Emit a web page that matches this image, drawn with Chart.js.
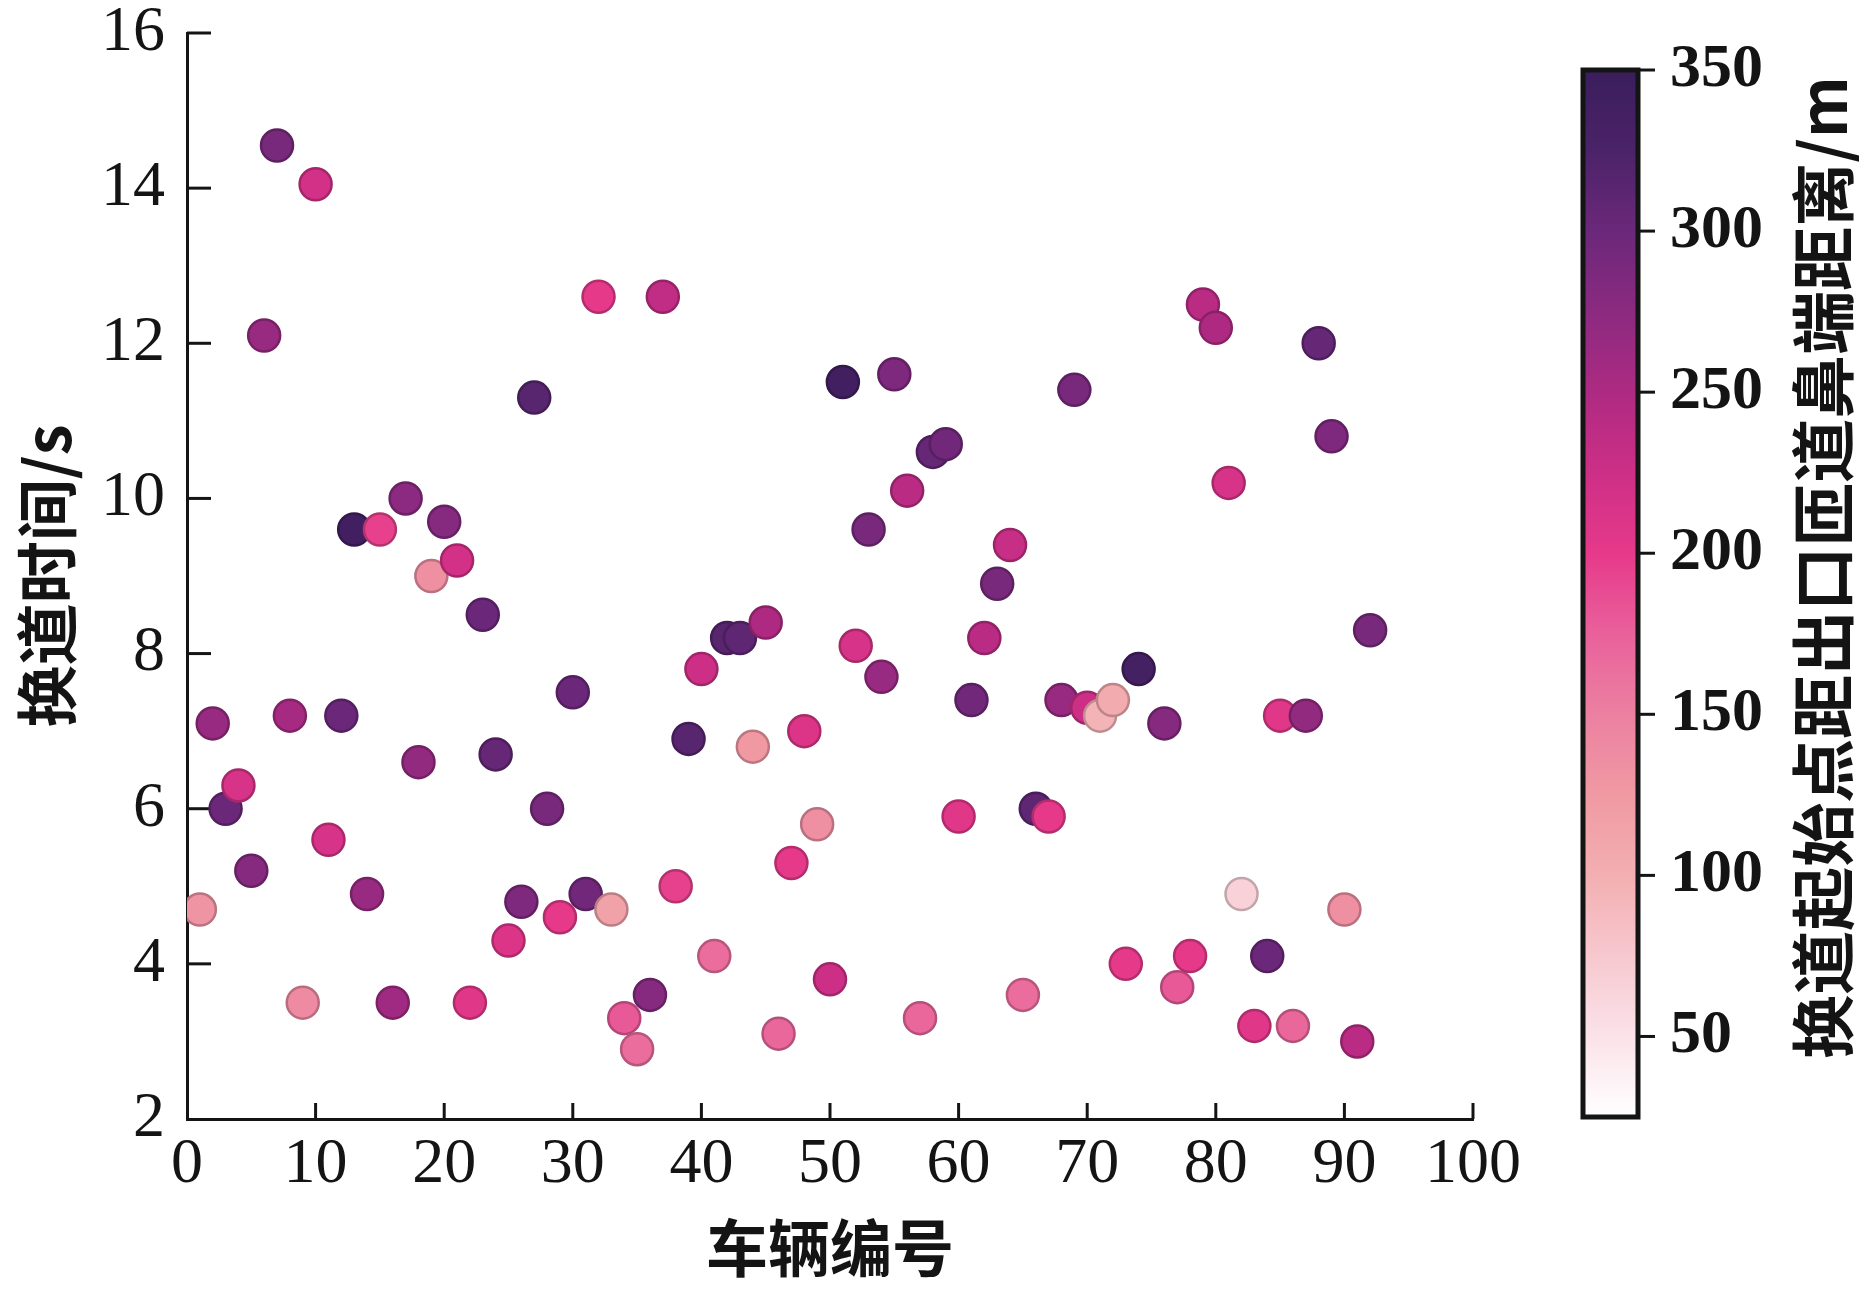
<!DOCTYPE html>
<html>
<head>
<meta charset="utf-8">
<script src="https://cdn.jsdelivr.net/npm/chart.js@4.4.0/dist/chart.umd.min.js"></script>
<style>
  html, body { margin: 0; padding: 0; background: #fff; }
  #wrap { position: relative; width: 1870px; height: 1289px; }
  #main { position: absolute; left: 0; top: 0; }
  #bar { position: absolute; left: 1480px; top: 0; }
</style>
</head>
<body>
<div id="wrap">
  <canvas id="main" width="1870" height="1289"></canvas>
  <canvas id="bar" width="390" height="1289"></canvas>
</div>
<script>
// 车辆编号
const vehicleIds = [
  1, 2, 3, 4, 5, 6, 7, 8, 9, 10, 11, 12, 13, 14, 15, 16, 17, 18, 19, 20,
  21, 22, 23, 24, 25, 26, 27, 28, 29, 30, 31, 32, 33, 34, 35, 36, 37, 38, 39, 40,
  41, 42, 43, 44, 45, 46, 47, 48, 49, 50, 51, 52, 53, 54, 55, 56, 57, 58, 59, 60,
  61, 62, 63, 64, 65, 66, 67, 68, 69, 70, 71, 72, 73, 74, 76, 77, 78, 79, 80,
  81, 82, 83, 84, 85, 86, 87, 88, 89, 90, 91, 92
];
// 换道时间/s
const changeTimes = [
  4.7, 7.1, 6.0, 6.3, 5.2, 12.1, 14.55, 7.2, 3.5, 14.05, 5.6, 7.2, 9.6, 4.9, 9.6, 3.5, 10.0, 6.6, 9.0, 9.7,
  9.2, 3.5, 8.5, 6.7, 4.3, 4.8, 11.3, 6.0, 4.6, 7.5, 4.9, 12.6, 4.7, 3.3, 2.9, 3.6, 12.6, 5.0, 6.9, 7.8,
  4.1, 8.2, 8.2, 6.8, 8.4, 3.1, 5.3, 7.0, 5.8, 3.8, 11.5, 8.1, 9.6, 7.7, 11.6, 10.1, 3.3, 10.6, 10.7, 5.9,
  7.4, 8.2, 8.9, 9.4, 3.6, 6.0, 5.9, 7.4, 11.4, 7.3, 7.2, 7.4, 4.0, 7.8, 7.1, 3.7, 4.1, 12.5, 12.2,
  10.2, 4.9, 3.2, 4.1, 7.2, 3.2, 7.2, 12.0, 10.8, 4.7, 3.0, 8.3
];
// 换道起始点距出口匝道鼻端距离/m
const startDistances = [
  130, 265, 300, 215, 280, 265, 290, 255, 140, 220, 215, 300, 340, 265, 195, 260, 275, 270, 135, 280,
  220, 205, 300, 305, 210, 285, 315, 290, 200, 300, 295, 200, 115, 180, 165, 280, 235, 195, 315, 225,
  165, 315, 310, 125, 250, 170, 200, 210, 135, 225, 340, 215, 290, 265, 285, 240, 170, 305, 295, 205,
  295, 240, 290, 230, 165, 310, 200, 265, 290, 225, 95, 105, 200, 335, 280, 180, 200, 240, 250,
  215, 65, 205, 300, 205, 170, 270, 305, 285, 135, 240, 290
];

const xTicks = [0, 10, 20, 30, 40, 50, 60, 70, 80, 90, 100];
const yTicks = [2, 4, 6, 8, 10, 12, 14, 16];
const barTicks = [50, 100, 150, 200, 250, 300, 350];
const barMin = 25;
const barMax = 350;

// colour map
const cmap = [
  [25, '#ffffff'], [50, '#fbe2e9'], [75, '#f7c8cf'], [100, '#f3afb1'],
  [125, '#f099a3'], [150, '#ec80a1'], [175, '#e9619b'], [200, '#e6398a'],
  [225, '#cd2f86'], [250, '#ae2a82'], [275, '#8b2a80'], [300, '#6b287a'],
  [325, '#4b2368'], [350, '#3a1d5c']
];

function hexToRgb(h) {
  return [parseInt(h.slice(1, 3), 16), parseInt(h.slice(3, 5), 16), parseInt(h.slice(5, 7), 16)];
}
function colorAt(v, k) {
  k = k || 1;
  let i = 0;
  while (i < cmap.length - 2 && v > cmap[i + 1][0]) i++;
  const a = cmap[i], b = cmap[i + 1];
  const t = Math.max(0, Math.min(1, (v - a[0]) / (b[0] - a[0])));
  const ca = hexToRgb(a[1]), cb = hexToRgb(b[1]);
  const c = ca.map((x, j) => Math.round((x + (cb[j] - x) * t) * k));
  return 'rgb(' + c.join(',') + ')';
}

const points = vehicleIds.map((id, i) => ({ x: id, y: changeTimes[i] }));
const fills = startDistances.map(v => colorAt(v));
const edges = startDistances.map(v => colorAt(v, 0.78));

const numFont = { family: '"Liberation Serif", "Times New Roman", serif', size: 64, lineHeight: 1 };
const barFont = { family: '"Liberation Serif", "Times New Roman", serif', size: 62, weight: 'bold', lineHeight: 1 };
const cjkFont = { family: '"Noto Sans CJK SC", sans-serif', size: 62, weight: 'bold' };
const ink = '#141414';

// short tick marks pointing into the plot
const innerTicks = {
  id: 'innerTicks',
  beforeDatasetsDraw(chart) {
    const { ctx, chartArea, scales: { x, y } } = chart;
    ctx.save();
    ctx.strokeStyle = ink;
    ctx.lineWidth = 3;
    x.ticks.forEach(t => {
      if (t.value === 0) return;
      const px = x.getPixelForValue(t.value);
      ctx.beginPath();
      ctx.moveTo(px, chartArea.bottom);
      ctx.lineTo(px, chartArea.bottom - 16);
      ctx.stroke();
    });
    y.ticks.forEach(t => {
      if (t.value === 2) return;
      const py = y.getPixelForValue(t.value);
      ctx.beginPath();
      ctx.moveTo(chartArea.left, py);
      ctx.lineTo(chartArea.left + 24, py);
      ctx.stroke();
    });
    ctx.restore();
  }
};

new Chart(document.getElementById('main'), {
  type: 'scatter',
  data: {
    datasets: [{
      data: points,
      pointRadius: 16,
      pointHoverRadius: 16,
      backgroundColor: fills,
      borderColor: edges,
      borderWidth: 2.5
    }]
  },
  options: {
    responsive: false,
    animation: false,
    layout: { padding: { left: 0, top: 33, right: 397, bottom: 0 } },
    plugins: { legend: { display: false }, tooltip: { enabled: false } },
    scales: {
      x: {
        type: 'linear', min: 0, max: 100,
        afterBuildTicks: s => { s.ticks = xTicks.map(v => ({ value: v })); },
        afterFit: s => { s.height = 170; s.paddingLeft = 0; s.paddingRight = 0; },
        border: { display: true, color: ink, width: 3 },
        grid: { display: false, drawTicks: false },
        ticks: { font: numFont, color: ink, padding: 14, maxRotation: 0, autoSkip: false },
        title: { display: true, text: '车辆编号', font: cjkFont, color: ink, padding: { top: 0, bottom: 3 } }
      },
      y: {
        type: 'linear', min: 2, max: 16,
        afterBuildTicks: s => { s.ticks = yTicks.map(v => ({ value: v })); },
        afterFit: s => { s.width = 187; s.paddingTop = 0; s.paddingBottom = 0; },
        border: { display: true, color: ink, width: 3 },
        grid: { display: false, drawTicks: false },
        ticks: { font: numFont, color: ink, padding: 22, autoSkip: false },
        title: { display: true, text: '换道时间/s', font: cjkFont, color: ink, padding: { top: 10, bottom: 0 } }
      }
    }
  },
  plugins: [innerTicks]
});

// colour bar: gradient box, outward ticks and rotated title
const colorBar = {
  id: 'colorBar',
  beforeDatasetsDraw(chart) {
    const { ctx, chartArea: a, scales: { y } } = chart;
    const y0 = y.getPixelForValue(barMin), y1 = y.getPixelForValue(barMax);
    const g = ctx.createLinearGradient(0, y0, 0, y1);
    cmap.forEach(([v, c]) => g.addColorStop((v - barMin) / (barMax - barMin), c));
    ctx.save();
    ctx.fillStyle = g;
    ctx.fillRect(a.left, y1, a.right - a.left, y0 - y1);
    ctx.strokeStyle = ink;
    ctx.lineWidth = 5;
    ctx.strokeRect(a.left, y1, a.right - a.left, y0 - y1);
    ctx.lineWidth = 3;
    y.ticks.forEach(t => {
      const py = y.getPixelForValue(t.value);
      ctx.beginPath();
      ctx.moveTo(a.right, py);
      ctx.lineTo(a.right + 17, py);
      ctx.stroke();
    });
    ctx.translate(343, (y0 + y1) / 2 - 26);
    ctx.rotate(-Math.PI / 2);
    ctx.fillStyle = ink;
    ctx.font = 'bold 64px "Noto Sans CJK SC", sans-serif';
    ctx.textAlign = 'center';
    ctx.textBaseline = 'middle';
    ctx.fillText('换道起始点距出口匝道鼻端距离/m', 0, 0);
    ctx.restore();
  }
};

new Chart(document.getElementById('bar'), {
  type: 'scatter',
  data: { datasets: [] },
  options: {
    responsive: false,
    animation: false,
    layout: { padding: { left: 103, top: 70, right: 0, bottom: 172 } },
    plugins: { legend: { display: false }, tooltip: { enabled: false } },
    scales: {
      x: { display: false, min: 0, max: 1 },
      y: {
        position: 'right', min: barMin, max: barMax,
        afterBuildTicks: s => { s.ticks = barTicks.map(v => ({ value: v })); },
        afterFit: s => { s.width = 232; s.paddingTop = 0; s.paddingBottom = 0; },
        border: { display: false },
        grid: { display: false, drawTicks: false },
        ticks: { font: barFont, color: ink, padding: 32, autoSkip: false }
      }
    }
  },
  plugins: [colorBar]
});
</script>
</body>
</html>
